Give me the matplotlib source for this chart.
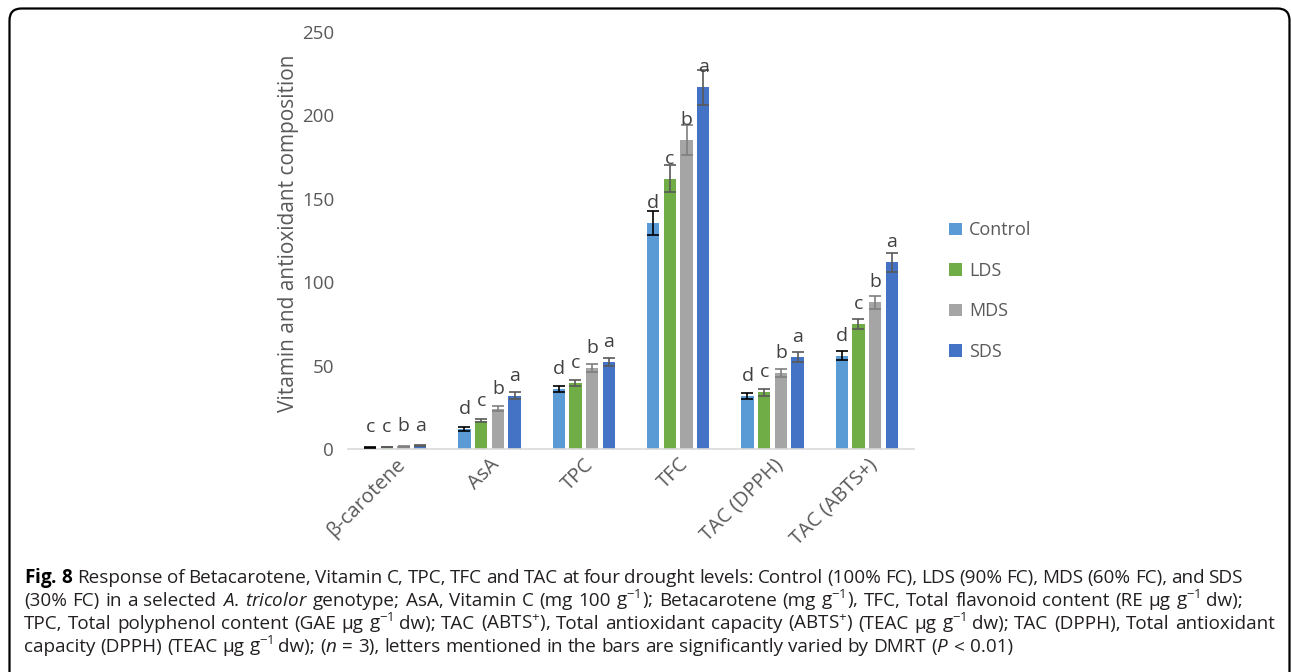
import matplotlib
matplotlib.use("Agg")
import matplotlib.pyplot as plt
import numpy as np
from matplotlib.patches import Patch, FancyBboxPatch
from matplotlib.transforms import IdentityTransform

plt.rcParams['font.family'] = ['Open Sans', 'DejaVu Sans']
plt.rcParams['mathtext.fontset'] = 'custom'
plt.rcParams['mathtext.rm'] = 'Open Sans'
plt.rcParams['mathtext.it'] = 'Open Sans:italic'
plt.rcParams['mathtext.bf'] = 'Open Sans:bold'

categories = ["β-carotene", "AsA", "TPC", "TFC", "TAC (DPPH)", "TAC (ABTS+)"]
series = ["Control", "LDS", "MDS", "SDS"]
colors = ["#5B9BD5", "#70AD47", "#A5A5A5", "#4472C4"]
err_colors = ["#000000", "#595959", "#7F7F7F", "#595959"]

control = [1.0, 12.0, 36.0, 135.5, 31.8, 56.0]
lds = [1.2, 17.0, 39.5, 162.0, 34.0, 75.0]
mds = [1.6, 24.0, 48.5, 185.0, 45.5, 88.0]
sds = [1.8, 32.0, 52.0, 217.0, 55.3, 112.0]

control_err = [0.2, 1.0, 2.0, 7.0, 2.0, 2.5]
lds_err = [0.2, 1.0, 2.0, 8.0, 2.0, 3.0]
mds_err = [0.3, 1.5, 2.5, 9.0, 2.5, 4.0]
sds_err = [0.3, 2.0, 2.5, 10.5, 3.0, 5.6]

control_let = ["c", "d", "d", "d", "d", "d"]
lds_let = ["c", "c", "c", "c", "c", "c"]
mds_let = ["b", "b", "b", "b", "b", "b"]
sds_let = ["a", "a", "a", "a", "a", "a"]

values = [control, lds, mds, sds]
errors = [control_err, lds_err, mds_err, sds_err]
letters = [control_let, lds_let, mds_let, sds_let]

W, H = 1292, 672
fig = plt.figure(figsize=(W / 100, H / 100), dpi=100)
ax = fig.add_axes([348 / W, 1 - 449 / H, (914 - 348) / W, (449 - 32) / H])

x = np.arange(len(categories))
step, bw = 0.177, 0.133
txt_col = "#595959"
fs = 13.5
for j, s in enumerate(series):
    xs = x + (j - 1.5) * step
    ax.bar(xs, values[j], bw, color=colors[j], label=s, zorder=2)
    ax.errorbar(xs, values[j], yerr=errors[j], fmt='none', ecolor=err_colors[j],
                elinewidth=1.2, capsize=4.3, capthick=1.2, zorder=3)
    for xi, v, l in zip(xs, values[j], letters[j]):
        ax.annotate(l, (xi, v), xytext=(0, 15), textcoords='offset pixels',
                    ha='center', va='baseline', fontsize=14, color="#404040")

ax.set_xlim(-0.5, len(categories) - 0.5)
ax.set_ylim(0, 250)
ax.set_yticks(np.arange(0, 251, 50))
for sp in ["top", "right", "left"]:
    ax.spines[sp].set_visible(False)
ax.spines["bottom"].set_color("#D9D9D9")
ax.spines["bottom"].set_linewidth(1.2)
ax.tick_params(axis='y', length=0, pad=10, labelsize=fs, labelcolor=txt_col)
ax.tick_params(axis='x', length=0, pad=4, labelsize=14.5, labelcolor=txt_col)
ax.set_xticks(x)
ax.set_xticklabels(categories, rotation=45, ha='right', va='top', rotation_mode='anchor')
ax.set_ylabel("Vitamin and antioxidant composition", fontsize=15, color=txt_col)
ax.yaxis.set_label_coords(-0.0866, 0.518)

handles = [Patch(facecolor=c, label=s) for c, s in zip(colors, series)]
leg = fig.legend(handles=handles, loc='center left', bbox_to_anchor=(949 / W, 1 - 291 / H),
                 frameon=False, fontsize=13, handlelength=0.7, handleheight=0.7,
                 handletextpad=0.4, labelspacing=1.25, borderpad=0, borderaxespad=0)
for t in leg.get_texts():
    t.set_color(txt_col)

# caption (lines 1-3 justified word by word, last line natural)
renderer = fig.canvas.get_renderer()
cfs = 13.6
cap_col = "#231F20"
cap_lines = [
    r"$\mathbf{Fig.}$ $\mathbf{8}$ Response of Betacarotene, Vitamin C, TPC, TFC and TAC at four drought levels: Control (100% FC), LDS (90% FC), MDS (60% FC), and SDS",
    r"(30% FC) in a selected $\mathit{A.}$ $\mathit{tricolor}$ genotype; AsA, Vitamin C (mg 100 g$^{-1}$); Betacarotene (mg g$^{-1}$), TFC, Total flavonoid content (RE μg g$^{-1}$ dw);",
    r"TPC, Total polyphenol content (GAE μg g$^{-1}$ dw); TAC (ABTS$^{+}$), Total antioxidant capacity (ABTS$^{+}$) (TEAC μg g$^{-1}$ dw); TAC (DPPH), Total antioxidant",
    r"capacity (DPPH) (TEAC μg g$^{-1}$ dw); ($\mathit{n}$ = 3), letters mentioned in the bars are significantly varied by DMRT ($\mathit{P}$ < 0.01)",
]
line_right = [1243, 1243, 1275, None]
x_left = 24
sp_w = (fig.text(0, 0, "a a", fontsize=cfs).get_window_extent(renderer).width
        - fig.text(0, 0, "aa", fontsize=cfs).get_window_extent(renderer).width)
for t in fig.texts[-2:]:
    t.remove()
for i, line in enumerate(cap_lines):
    words = line.split(" ")
    y = 1 - (583 + 23 * i) / H
    arts = [fig.text(0, y, w, fontsize=cfs, color=("black" if (i == 0 and k < 2) else cap_col),
                     ha='left', va='baseline') for k, w in enumerate(words)]
    widths = [a.get_window_extent(renderer).width for a in arts]
    if line_right[i] is None:
        gap = sp_w
    else:
        gap = (line_right[i] - x_left - sum(widths)) / (len(words) - 1)
    xc = x_left
    for a, wdt in zip(arts, widths):
        a.set_x(xc / W)
        xc += wdt + gap

box = FancyBboxPatch((9.5, -30), 1280, 663.5 + 30, boxstyle="round,pad=0,rounding_size=12",
                     transform=IdentityTransform(), fill=False, edgecolor="black", linewidth=1.6)
fig.patches.append(box)

fig.savefig("out.png", dpi=100)
